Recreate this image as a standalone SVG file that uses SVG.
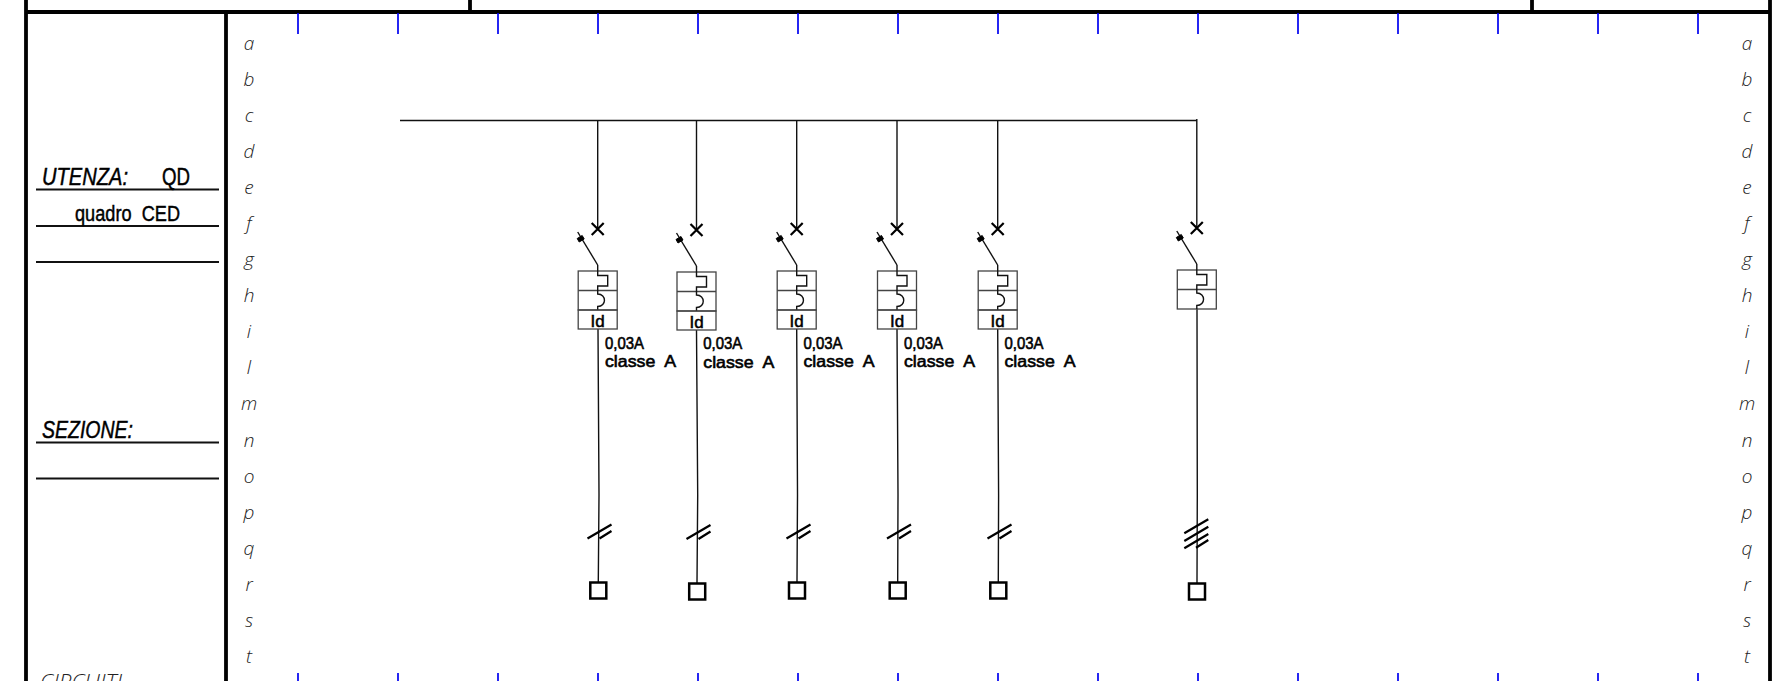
<svg xmlns="http://www.w3.org/2000/svg" xmlns:xlink="http://www.w3.org/1999/xlink" width="1775" height="681" viewBox="0 0 1775 681">
<style>
.frame{stroke:#000;stroke-width:3.800;fill:none}
.rule{stroke:#111;stroke-width:2.200;fill:none}
.tick{stroke:#0000f0;stroke-width:1.700;fill:none}
.wire{stroke:#111;stroke-width:1.400;fill:none}
.thin{stroke:#444;stroke-width:1.300;fill:none}
.slash{stroke:#000;stroke-width:2.200;fill:none}
.term{stroke:#000;stroke-width:2.500;fill:#fff}
.ltr{font-family:"Open Sans","DejaVu Sans",sans-serif;font-style:italic;font-weight:300;font-size:19px;fill:#222;text-anchor:middle}
.cad{font-family:"Liberation Sans",sans-serif;fill:#000;stroke:#000;stroke-width:.45}
.big{font-size:23px;font-style:italic}
.mid{font-size:22px}
.small{font-size:16.500px;stroke-width:.6}
.id{font-size:17px;text-anchor:middle;stroke-width:.5}
</style>
<defs>
<g id="brk">
<path class="wire" d="M0 120V229"/>
<path class="slash" d="M-6 223L6 235M-6 235L6 223"/>
<path class="wire" d="M0 265L-20 232"/>
<path d="M-20.500 240.500L-15.500 237.500L-13.500 241L-18.500 244Z" stroke="#000" stroke-width="1" fill="#000" transform="translate(0,-2)"/>
<rect class="thin" x="-19.500" y="271" width="39" height="39"/>
<path class="thin" d="M-19.500 290.500H19.500"/>
<path class="wire" d="M0 265V275.500H10V286H0V294C9 294 9 306.500 0 306.500V310"/>
</g>
<g id="rcd">
<rect class="thin" x="-19.500" y="310" width="39" height="19"/>
</g>
<g id="rem2">
<path class="slash" d="M-11 538.500L13 524.500M1 538.500L13 531"/>
</g>
<rect id="sq" class="term" x="-8" y="0" width="16" height="16"/>
</defs>

<g id="frame">
<path class="frame" d="M26 0V681M226 12V681M1770 0V681M26 12H1770M470 0V12M1532 0V12"/>
<path class="rule" d="M36 189.500H219M36 226H219M36 262H219M36 442.500H219M36 478.500H219"/>
</g>

<g id="ticks">
<path class="tick" d="M298 13V34M398 13V34M498 13V34M598 13V34M698 13V34M798 13V34M898 13V34M998 13V34M1098 13V34M1198 13V34M1298 13V34M1398 13V34M1498 13V34M1598 13V34M1698 13V34M298 673V681M398 673V681M498 673V681M598 673V681M698 673V681M798 673V681M898 673V681M998 673V681M1098 673V681M1198 673V681M1298 673V681M1398 673V681M1498 673V681M1598 673V681M1698 673V681"/>
</g>

<g id="row-letters-left">
<text class="ltr" x="249" y="50">a</text><text class="ltr" x="249" y="86">b</text><text class="ltr" x="249" y="122">c</text><text class="ltr" x="249" y="158">d</text><text class="ltr" x="249" y="194">e</text><text class="ltr" x="249" y="230">f</text><text class="ltr" x="249" y="266">g</text><text class="ltr" x="249" y="302">h</text><text class="ltr" x="249" y="338">i</text><text class="ltr" x="249" y="374">l</text><text class="ltr" x="249" y="410">m</text><text class="ltr" x="249" y="447">n</text><text class="ltr" x="249" y="483">o</text><text class="ltr" x="249" y="519">p</text><text class="ltr" x="249" y="555">q</text><text class="ltr" x="249" y="591">r</text><text class="ltr" x="249" y="627">s</text><text class="ltr" x="249" y="663">t</text>
</g>
<g id="row-letters-right">
<text class="ltr" x="1747" y="50">a</text><text class="ltr" x="1747" y="86">b</text><text class="ltr" x="1747" y="122">c</text><text class="ltr" x="1747" y="158">d</text><text class="ltr" x="1747" y="194">e</text><text class="ltr" x="1747" y="230">f</text><text class="ltr" x="1747" y="266">g</text><text class="ltr" x="1747" y="302">h</text><text class="ltr" x="1747" y="338">i</text><text class="ltr" x="1747" y="374">l</text><text class="ltr" x="1747" y="410">m</text><text class="ltr" x="1747" y="447">n</text><text class="ltr" x="1747" y="483">o</text><text class="ltr" x="1747" y="519">p</text><text class="ltr" x="1747" y="555">q</text><text class="ltr" x="1747" y="591">r</text><text class="ltr" x="1747" y="627">s</text><text class="ltr" x="1747" y="663">t</text>
</g>

<g id="title-block">
<text class="cad big" x="42" y="185" textLength="86" lengthAdjust="spacingAndGlyphs">UTENZA:</text>
<text class="cad" x="162" y="185" font-size="23" textLength="28" lengthAdjust="spacingAndGlyphs">QD</text>
<text class="cad mid" x="75" y="221" textLength="105" lengthAdjust="spacingAndGlyphs" xml:space="preserve">quadro  CED</text>
<text class="cad big" x="42" y="438" textLength="91" lengthAdjust="spacingAndGlyphs">SEZIONE:</text>
<text class="ltr" x="81" y="689" style="font-size:21px" textLength="82" lengthAdjust="spacingAndGlyphs">CIRCUITI</text>
</g>

<g id="connectors">
<path class="wire" d="M400 120.500H1197"/>
<path class="wire" d="M598 329L599 495L598.300 582M696.500 330L697.700 495L697 583M796.700 329L797.500 495L797 582M897 329L898 495L897.700 582M997.700 329L998.600 495L998.300 582M1197 309L1197.300 495L1197 583"/>
</g>

<g id="breaker-1"><use href="#brk" x="597.700"/><use href="#rcd" x="597.700"/><text class="cad id" x="597.700" y="327">Id</text><text class="cad small" x="605" y="348.500" textLength="39" lengthAdjust="spacingAndGlyphs">0,03A</text><text class="cad small" x="605" y="367" textLength="71" lengthAdjust="spacingAndGlyphs" xml:space="preserve">classe  A</text></g>
<g id="breaker-2"><use href="#brk" x="696.500" y="1"/><use href="#rcd" x="696.500" y="1"/><text class="cad id" x="696.500" y="328">Id</text><text class="cad small" x="703.300" y="349" textLength="39" lengthAdjust="spacingAndGlyphs">0,03A</text><text class="cad small" x="703.300" y="367.500" textLength="71" lengthAdjust="spacingAndGlyphs" xml:space="preserve">classe  A</text></g>
<g id="breaker-3"><use href="#brk" x="796.700"/><use href="#rcd" x="796.700"/><text class="cad id" x="796.700" y="327">Id</text><text class="cad small" x="803.500" y="348.500" textLength="39" lengthAdjust="spacingAndGlyphs">0,03A</text><text class="cad small" x="803.500" y="367" textLength="71" lengthAdjust="spacingAndGlyphs" xml:space="preserve">classe  A</text></g>
<g id="breaker-4"><use href="#brk" x="897"/><use href="#rcd" x="897"/><text class="cad id" x="897" y="327">Id</text><text class="cad small" x="904" y="348.500" textLength="39" lengthAdjust="spacingAndGlyphs">0,03A</text><text class="cad small" x="904" y="367" textLength="71" lengthAdjust="spacingAndGlyphs" xml:space="preserve">classe  A</text></g>
<g id="breaker-5"><use href="#brk" x="997.700"/><use href="#rcd" x="997.700"/><text class="cad id" x="997.700" y="327">Id</text><text class="cad small" x="1004.500" y="348.500" textLength="39" lengthAdjust="spacingAndGlyphs">0,03A</text><text class="cad small" x="1004.500" y="367" textLength="71" lengthAdjust="spacingAndGlyphs" xml:space="preserve">classe  A</text></g>
<g id="breaker-6"><use href="#brk" x="1196.800" y="-1"/></g>

<g id="terminal-1"><use href="#rem2" x="598.500"/><use href="#sq" x="598.300" y="582.500"/></g>
<g id="terminal-2"><use href="#rem2" x="697.500" y="0.500"/><use href="#sq" x="697.200" y="583.500"/></g>
<g id="terminal-3"><use href="#rem2" x="797.500"/><use href="#sq" x="797" y="582.500"/></g>
<g id="terminal-4"><use href="#rem2" x="898"/><use href="#sq" x="897.700" y="582.500"/></g>
<g id="terminal-5"><use href="#rem2" x="998.500"/><use href="#sq" x="998.300" y="582.500"/></g>
<g id="terminal-6"><path class="slash" d="M1184.300 533.300L1208.300 519.300M1184.300 541L1208.300 526.700M1184.300 548.300L1208.300 534M1196 547.700L1208.300 540"/><use href="#sq" x="1197" y="583.500"/></g>
</svg>
